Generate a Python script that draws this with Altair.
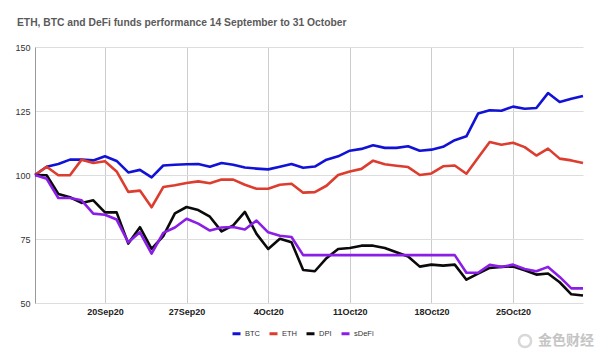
import altair as alt
import pandas as pd

dates = pd.date_range("2020-09-14", "2020-10-31", freq="D").strftime("%Y-%m-%d").tolist()

btc = [100, 103.2, 104.3, 106, 106, 105.7, 107.3, 105.5, 101, 102, 99.1, 103.7, 104, 104.2,
       104.3, 103.2, 104.7, 104, 102.9, 102.5, 102.2, 103.2, 104.3, 102.8, 103.3, 106, 107.3,
       109.5, 110.2, 111.6, 110.6, 110.6, 111.2, 109.5, 109.9, 111, 113.6, 115.1, 124, 125.3,
       125.1, 126.7, 125.9, 126.2, 132, 128.5, 129.8, 130.9]
eth = [100, 103.2, 99.9, 99.9, 106, 104.7, 105.4, 101.4, 93.4, 93.9, 87.4, 95.3, 96, 96.9,
       97.5, 96.8, 98.2, 98.2, 96.2, 94.6, 94.6, 96.2, 96.6, 93.1, 93.3, 95.8, 100, 101.4,
       102.4, 105.6, 104.2, 103.6, 103.1, 100, 100.6, 103.4, 103.7, 100.5, 106.7, 112.9,
       111.8, 112.6, 110.9, 107.6, 110.3, 106.4, 105.7, 104.7]
dpi = [100, 99.9, 92.6, 91.3, 89.1, 90.1, 85.4, 85.4, 73.2, 79.6, 71.1, 76.1, 85, 87.5,
       86.3, 83.7, 78, 80.3, 85.6, 77, 71.1, 75.1, 73.7, 62.9, 62.4, 67.5, 71.1, 71.5, 72.4,
       72.4, 71.5, 69.8, 68.2, 64.2, 65, 64.6, 65, 59.1, 61.5, 63.7, 64.1, 64.3, 62.8, 61.1,
       61.5, 58.1, 53.4, 52.9]
sdefi = [100, 98.5, 91, 91, 90.1, 84.9, 84.5, 82.6, 73.7, 77.6, 69.3, 77.4, 79.5, 82.9, 81,
         78.3, 79.5, 79.7, 78.7, 82.2, 77.6, 76.3, 75.8, 68.7, 68.7, 68.7, 68.7, 68.7, 68.7,
         68.7, 68.7, 68.7, 68.7, 68.7, 68.7, 68.7, 68.7, 61.8, 61.8, 64.9, 64.1, 65, 63.3,
         62.4, 64.1, 60.2, 55.7, 55.7]

series_names = ["BTC", "ETH", "DPI", "sDeFi"]
series_colors = ["#1212d6", "#dc3d2e", "#0a0a0a", "#8a1ee6"]
y_ticks = [50, 75, 100, 125, 150]
x_ticks = [(9, 20), (9, 27), (10, 4), (10, 11), (10, 18), (10, 25)]
title_text = "ETH, BTC and DeFi funds performance 14 September to 31 October"
watermark = "金色财经"

rows = []
for name, vals in zip(series_names, [btc, eth, dpi, sdefi]):
    for d, v in zip(dates, vals):
        rows.append({"date": d, "value": v, "series": name})
df = pd.DataFrame(rows)

font = "Liberation Sans"

lines = alt.Chart(df).mark_line(strokeWidth=2.6, strokeJoin="round").encode(
    x=alt.X(
        "date:T",
        scale=alt.Scale(
            type="utc",
            domain=[alt.DateTime(year=2020, month=9, date=14, utc=True),
                    alt.DateTime(year=2020, month=10, date=31, utc=True)],
        ),
        axis=alt.Axis(
            title=None,
            values=[alt.DateTime(year=2020, month=m, date=d, utc=True) for m, d in x_ticks],
            labelExpr="utcFormat(datum.value, '%-d%b%y')",
            domain=False,
            ticks=False,
            labelPadding=4,
            labelFontSize=9,
            labelFontWeight="bold",
            labelColor="#222222",
            labelFont=font,
            gridColor="#cccccc",
            gridWidth=1,
        ),
    ),
    y=alt.Y(
        "value:Q",
        scale=alt.Scale(domain=[50, 150], nice=False, zero=False),
        axis=alt.Axis(
            title=None,
            values=y_ticks,
            domain=True,
            domainColor="#999999",
            ticks=False,
            labelPadding=5,
            labelFontSize=9,
            labelColor="#333333",
            labelFont=font,
            gridColor="#dddddd",
            gridWidth=1,
        ),
    ),
    color=alt.Color(
        "series:N",
        scale=alt.Scale(domain=series_names, range=series_colors),
        sort=series_names,
        legend=alt.Legend(
            title=None,
            orient="none",
            direction="horizontal",
            legendX=196,
            legendY=281,
            symbolType="stroke",
            symbolStrokeWidth=3,
            symbolSize=64,
            labelFontSize=7.5,
            labelColor="#333333",
            labelFont=font,
            labelOffset=3,
            columnPadding=3,
            symbolOffset=0,
        ),
    ),
    detail="series:N",
)

wm = alt.Chart(pd.DataFrame({"t": [watermark]})).mark_text(
    align="left", baseline="middle", fontSize=14, font="Noto Sans CJK SC",
    color="#c4c4c4", fontWeight="bold"
).encode(text="t:N", x=alt.value(503), y=alt.value(294))

wm_logo = alt.Chart(pd.DataFrame({"t": [watermark]})).mark_point(
    shape="circle", size=150, filled=False, strokeWidth=2.5, color="#c8c8c8"
).encode(x=alt.value(490), y=alt.value(294))

chart = alt.layer(lines, wm, wm_logo).properties(
    width=548,
    height=256,
    autosize=alt.AutoSizeParams(type="none"),
    padding={"left": 35, "top": 47, "right": 17, "bottom": 50},
    title=alt.TitleParams(
        text=title_text,
        anchor="start",
        dx=2,
        offset=15,
        fontSize=10.3,
        fontWeight="bold",
        color="#5a5a5a",
        font=font,
    ),
).configure_view(stroke=None)

chart.save("out.html", embed_options={"renderer": "svg", "actions": False})
